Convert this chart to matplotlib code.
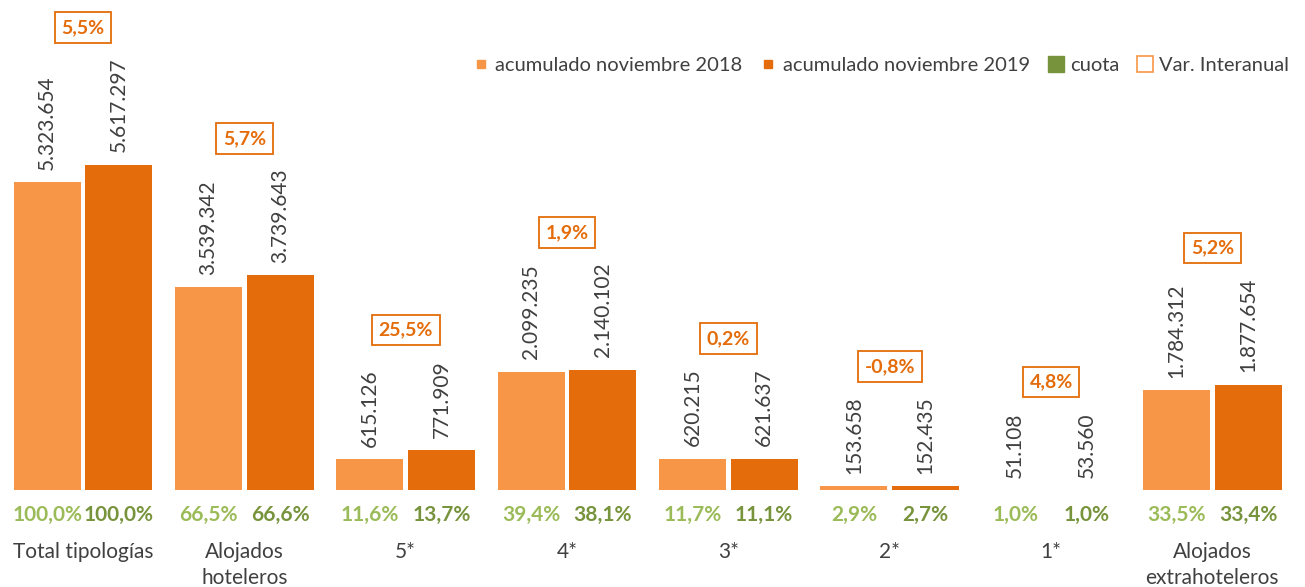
import matplotlib.pyplot as plt
from matplotlib.lines import Line2D
import numpy as np

plt.rcParams['font.family'] = ['Lato', 'DejaVu Sans']

# data
categorias = ['Total tipologías', 'Alojados\nhoteleros', '5*', '4*', '3*', '2*', '1*',
              'Alojados\nextrahoteleros']
nov_2018 = [5323654, 3539342, 615126, 2099235, 620215, 153658, 51108, 1784312]
nov_2019 = [5617297, 3739643, 771909, 2140102, 621637, 152435, 53560, 1877654]
cuota_2018 = ['100,0%', '66,5%', '11,6%', '39,4%', '11,7%', '2,9%', '1,0%', '33,5%']
cuota_2019 = ['100,0%', '66,6%', '13,7%', '38,1%', '11,1%', '2,7%', '1,0%', '33,4%']
var_inter = ['5,5%', '5,7%', '25,5%', '1,9%', '0,2%', '-0,8%', '4,8%', '5,2%']

c18 = '#F79646'
c19 = '#E46C0A'
verde_claro = '#9BBB59'
verde = '#77933C'
gris = '#404040'

def fmt(v):
    return f'{v:,}'.replace(',', '.')

fig = plt.figure(figsize=(13.05, 5.87), dpi=100)
ax = fig.add_axes([0.0018, 0.165, 0.989, 0.835])
x = np.arange(len(categorias))
w = 0.415
off = 0.222
ymin = 90000
ax.bar(x - off, nov_2018, w, color=c18)
ax.bar(x + off, nov_2019, w, color=c19)
ax.set_xlim(-0.5, len(categorias) - 0.5)
ax.set_ylim(ymin, 8.42e6)
ax.axis('off')

labels = []
for i in range(len(x)):
    l1 = ax.annotate(fmt(nov_2018[i]), (x[i] - off, max(nov_2018[i], ymin)), xytext=(0, 9),
                     textcoords='offset points', rotation=90, ha='center', va='bottom',
                     fontsize=15, color=gris)
    l2 = ax.annotate(fmt(nov_2019[i]), (x[i] + off, max(nov_2019[i], ymin)), xytext=(0, 9),
                     textcoords='offset points', rotation=90, ha='center', va='bottom',
                     fontsize=15, color=gris)
    labels.append((l1, l2))
    ax.annotate(cuota_2018[i], (x[i] - off, ymin), xytext=(0, -18), textcoords='offset points',
                ha='center', va='center', fontsize=15, fontweight='bold', color=verde_claro)
    ax.annotate(cuota_2019[i], (x[i] + off, ymin), xytext=(0, -18), textcoords='offset points',
                ha='center', va='center', fontsize=15, fontweight='bold', color=verde)
    ax.annotate(categorias[i], (x[i], ymin), xytext=(0, -37), textcoords='offset points',
                ha='center', va='top', fontsize=15, color=gris, linespacing=1.4)

# var. interanual boxes above the taller label
fig.canvas.draw()
r = fig.canvas.get_renderer()
inv = ax.transData.inverted()
for i, (l1, l2) in enumerate(labels):
    top = max(l1.get_window_extent(r).y1, l2.get_window_extent(r).y1)
    ypos = inv.transform((0, top + 30))[1]
    ax.text(x[i], ypos, var_inter[i], ha='center', va='center', fontsize=14,
            fontweight='bold', color=c19,
            bbox=dict(boxstyle='square,pad=0.35', fc='white', ec=c19, lw=1.3))

handles = [
    Line2D([], [], marker='s', ls='', color=c18, markersize=6),
    Line2D([], [], marker='s', ls='', color=c19, markersize=6),
    Line2D([], [], marker='s', ls='', color=verde, markersize=11),
    Line2D([], [], marker='s', ls='', mfc='white', mec=c18, markersize=11, mew=1.2),
]
leg = fig.legend(handles, ['acumulado noviembre 2018', 'acumulado noviembre 2019', 'cuota',
                           'Var. Interanual'],
                 loc='center right', bbox_to_anchor=(1.002, 0.889), ncol=4, frameon=False,
                 fontsize=14.5, handlelength=0.6, handletextpad=0.4, columnspacing=1.0)
for t in leg.get_texts():
    t.set_color(gris)

fig.savefig('out.png', dpi=100)
